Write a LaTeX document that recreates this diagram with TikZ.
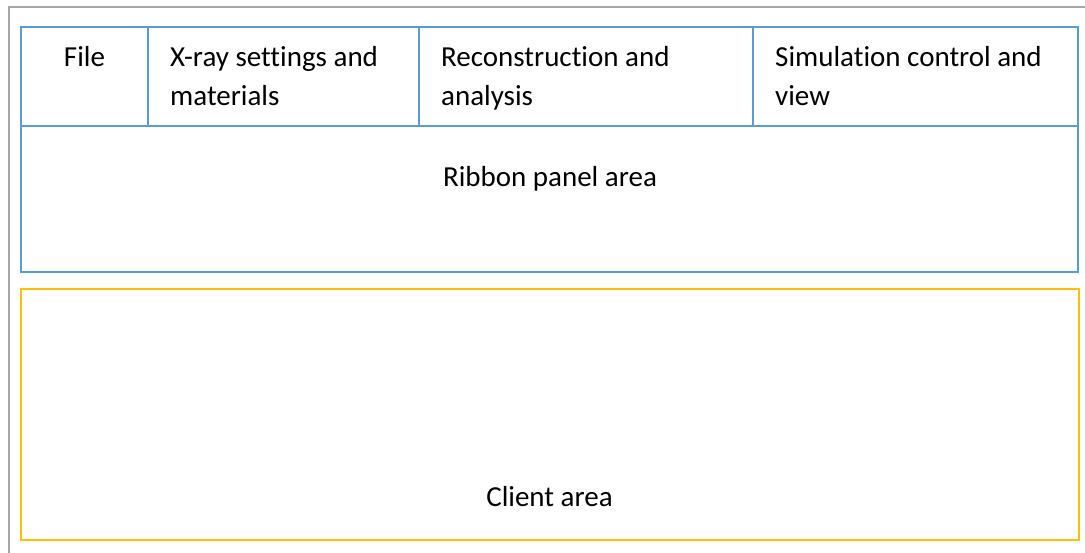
\documentclass[tikz,border=0pt]{standalone}
\usepackage{fontspec}
\setmainfont[Ligatures={NoCommon}]{Carlito}
\definecolor{frameblue}{HTML}{5B9BD5}
\definecolor{clientyellow}{HTML}{FFC000}
\definecolor{windowgray}{HTML}{A6A6A6}
\begin{document}
\begin{tikzpicture}[x=1pt,y=1pt,
  bluebox/.style={draw=frameblue,line width=2.6pt},
  yellowbox/.style={draw=clientyellow,line width=2.8pt},
  grayframe/.style={draw=windowgray,line width=2.4pt},
  label/.style={inner sep=0pt,font=\fontsize{29}{39}\selectfont,align=left}]
\useasboundingbox (0,0) rectangle (1085,553);
% window frame
\draw[grayframe] (9,-5) -- (9,546) -- (1090,546);
% ribbon
\draw[bluebox] (21,281) rectangle (1078,526);
\draw[bluebox] (21,427) -- (1078,427);
\draw[bluebox] (148,427) -- (148,526);
\draw[bluebox] (419,427) -- (419,526);
\draw[bluebox] (753,427) -- (753,526);
% client
\draw[yellowbox] (21,13) rectangle (1079,264);
% texts
\node[label,anchor=base] (file) at (84.5,486) {File};
\node[label,anchor=base west] (xray) at (170,447) {X-ray settings and\\materials};
\node[label,anchor=base west] (recon) at (441,447) {Reconstruction and\\analysis};
\node[label,anchor=base west] (sim) at (775,447) {Simulation control and\\view};
\node[label,anchor=base] (ribbon) at (550,366) {Ribbon panel area};
\node[label,anchor=base] (client) at (549.5,46) {Client area};
\end{tikzpicture}
\end{document}
